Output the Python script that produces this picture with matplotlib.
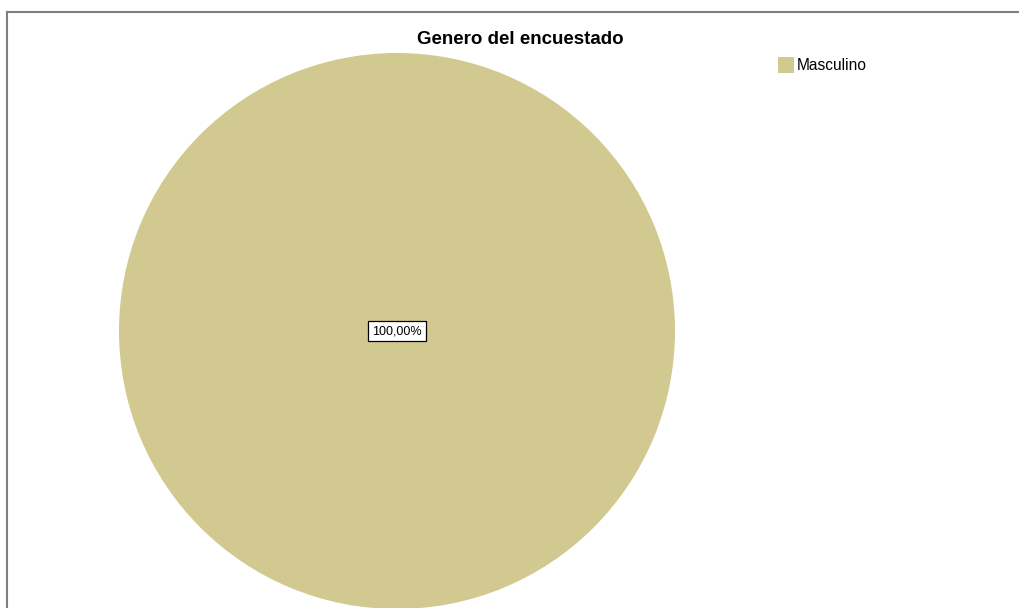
import matplotlib
matplotlib.use('Agg')
import matplotlib.pyplot as plt
from matplotlib.patches import Rectangle
from matplotlib.lines import Line2D

plt.rcParams['font.family'] = ['Liberation Sans', 'DejaVu Sans']

categorias = ['Masculino']
valores = [100.0]
colores = ['#D1C98F']
titulo = 'Genero del encuestado'

W, H = 1019, 608
fig = plt.figure(figsize=(W / 100, H / 100), dpi=100)

# marco gris arriba y a la izquierda
fig.add_artist(Line2D([7 / W, 1], [1 - 12 / H, 1 - 12 / H], color='#7f7f7f', lw=1.5))
fig.add_artist(Line2D([7 / W, 7 / W], [0, 1 - 12 / H], color='#7f7f7f', lw=1.5))

# pastel centrado en (397, 331), radio 278 px
cx, cy, r = 397, 331, 278
ax = fig.add_axes([(cx - r) / W, (H - cy - r) / H, 2 * r / W, 2 * r / H])
total = sum(valores)
wedges, _ = ax.pie(valores, colors=colores, startangle=90, counterclock=False,
                   radius=1, wedgeprops=dict(linewidth=0))
ax.set_xlim(-1, 1)
ax.set_ylim(-1, 1)
ax.set_aspect('auto')
ax.axis('off')

for v in valores:
    etiqueta = '{:.2f}%'.format(100 * v / total).replace('.', ',')
    ax.text(0, 0.0, etiqueta, ha='center', va='center', fontsize=9,
            bbox=dict(boxstyle='square,pad=0.3', fc='white', ec='black', lw=0.9))

fig.text(520 / W, 1 - 39 / H, titulo, ha='center', va='center',
         fontsize=13.5, fontweight='bold')

# leyenda
for i, (cat, col) in enumerate(zip(categorias, colores)):
    y0 = 57 + i * 20
    fig.add_artist(Rectangle((778 / W, 1 - (y0 + 16) / H), 16 / W, 16 / H,
                             transform=fig.transFigure, fc=col, ec='none'))
    fig.text(797 / W, 1 - (y0 + 9) / H, cat, ha='left', va='center', fontsize=11.2)

fig.savefig('out.png', dpi=100)
